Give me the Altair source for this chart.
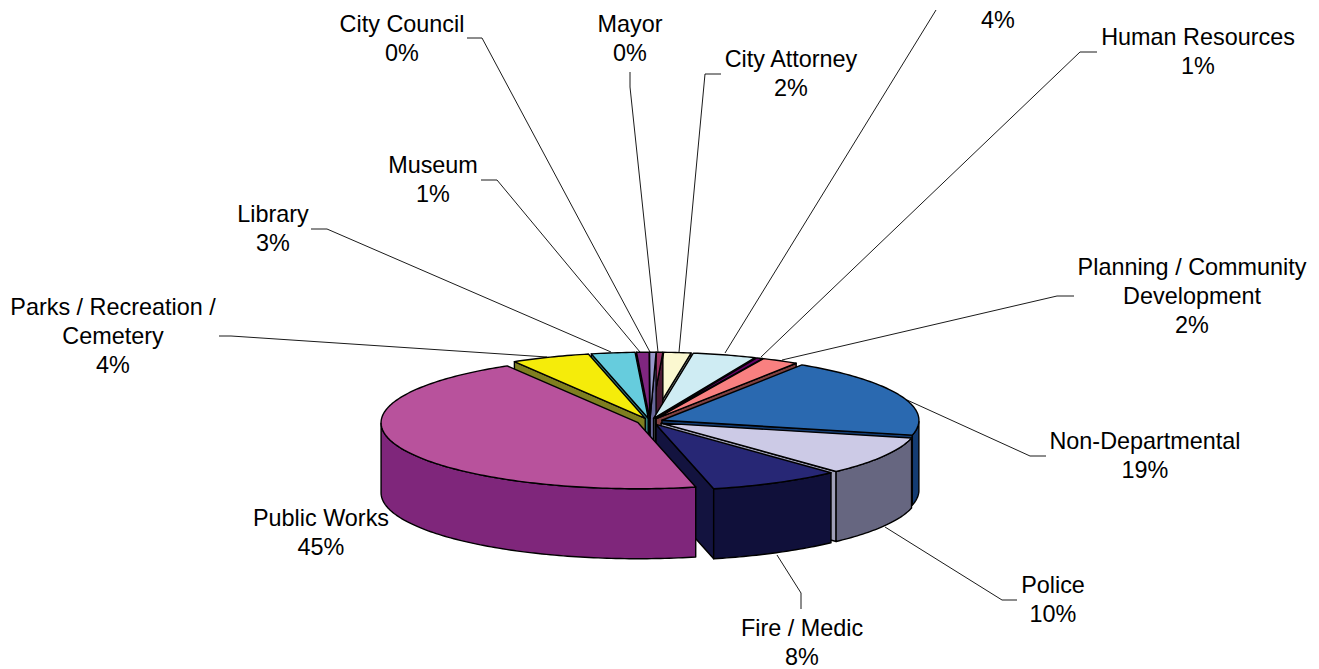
import math
import altair as alt
import pandas as pd

names = ["Non-Departmental", "Police", "Fire / Medic", "Public Works", "Parks / Recreation / Cemetery",
         "Library", "Museum", "City Council", "Mayor", "City Attorney", "(label cut off)", "Human Resources",
         "Planning / Community Development"]
shares = [19.4, 9.45, 8.3, 45.0, 4.94, 2.73, 0.78, 0.4, 0.4, 1.7, 3.98, 0.4, 2.3]
top_colors = ["#2A69B0", "#CCCAE6", "#272775", "#B8529C", "#F5EC0A", "#66CCDD", "#7F2680", "#9999CC",
              "#993366", "#FBF8D0", "#CFECF3", "#660066", "#F98080"]
wall_colors = ["#143C72", "#666680", "#10103A", "#7F267B", "#7F7F20", "#337F80", "#40134A", "#666699",
               "#4D1A33", "#80807A", "#68797F", "#330033", "#804040"]
face_colors = ["#143C72", "#A0A0B8", "#13133F", "#7F267B", "#7F7F20", "#337F80", "#40134A", "#666699",
               "#4D1A33", "#80807A", "#68797F", "#330033", "#804040"]
draw_order = [9, 8, 7, 10, 11, 6, 5, 12, 4, 0, 1, 2, 3]

label_lines = [
    ["Non-Departmental", "19%"], ["Police", "10%"], ["Fire / Medic", "8%"], ["Public Works", "45%"],
    ["Parks / Recreation /", "Cemetery", "4%"], ["Library", "3%"], ["Museum", "1%"], ["City Council", "0%"],
    ["Mayor", "0%"], ["City Attorney", "2%"], ["4%"], ["Human Resources", "1%"],
    ["Planning / Community", "Development", "2%"],
]
label_x = [1145, 1053, 802, 321, 113, 273, 433, 402, 630, 791, 998, 1198, 1192]
label_y = [441.8, 585.8, 628.8, 518.8, 307.8, 214.8, 165.8, 24.8, 24.8, 59.8, 20.5, 37.8, 267.8]
leaders = [
    [(907, 400), (1030, 456), (1046, 456)], [(885, 527), (1002, 600), (1017, 600)],
    [(777, 555), (801, 593), (801, 609)], [],
    [(547, 357), (231, 336), (219, 336)], [(611, 352), (327, 229), (311, 229)],
    [(640, 352), (497, 180), (481, 180)], [(650, 352), (482, 38), (467, 38)],
    [(658, 352), (630, 87), (630, 72)], [(679, 352), (705, 74), (721, 74)],
    [(725, 353), (936, 10)], [(761, 357), (1080, 52), (1097, 52)],
    [(782, 360), (1057, 296), (1074, 296)],
]

# page geometry
W, H = 1303, 661
M = 8
CX, CY, RX, RY, DEPTH, EXPLODE = 650.0, 421.5, 257.0, 66.0, 70.0, 0.05
START = 57.0


def px(p, dy=0.0):
    return [round(p[0] - M, 2), round(p[1] - M + dy, 2)]


total = sum(shares)
features = []


def add(ring, color):
    ring = ring + [ring[0]]
    features.append({"type": "Feature", "properties": {"fill": color},
                     "geometry": {"type": "Polygon", "coordinates": [ring]}})


spans = []
a = START
for s in shares:
    b = a - s / total * 360.0
    spans.append((a, b))
    a = b

for i in draw_order:
    a0, b0 = spans[i]
    mid = math.radians((a0 + b0) / 2)
    cx = CX + EXPLODE * RX * math.cos(mid)
    cy = CY - EXPLODE * RY * math.sin(mid)
    rim = lambda deg: (cx + RX * math.cos(math.radians(deg)), cy - RY * math.sin(math.radians(deg)))
    n = max(2, int(abs(a0 - b0)) + 2)
    arc = [a0 + (b0 - a0) * k / (n - 1) for k in range(n)]
    apex = (cx, cy)
    # only the cut faces that turn towards the viewer
    if math.cos(math.radians(a0)) < 0:
        add([px(apex), px(rim(a0)), px(rim(a0), DEPTH), px(apex, DEPTH)], face_colors[i])
    if math.cos(math.radians(b0)) > 0:
        add([px(apex), px(rim(b0)), px(rim(b0), DEPTH), px(apex, DEPTH)], face_colors[i])
    front = [d for d in arc if math.sin(math.radians(d)) < 0]
    if len(front) > 1:
        add([px(rim(d)) for d in front] + [px(rim(d), DEPTH) for d in reversed(front)], wall_colors[i])
    add([px(apex)] + [px(rim(d)) for d in arc], top_colors[i])

text_rows = []
LINE = 29
for i, lines in enumerate(label_lines):
    for j, t in enumerate(lines):
        text_rows.append({"x": label_x[i], "y": label_y[i] + j * LINE, "t": t, "k": f"{i}-{j}"})

lead_rows = []
for i, pts in enumerate(leaders):
    for j, (x, y) in enumerate(pts):
        lead_rows.append({"x": x, "y": y, "g": names[i], "o": j})

xs = alt.Scale(domain=[M, M + W], range=[0, W])
ys = alt.Scale(domain=[M, M + H], range=[0, H])

lead = alt.Chart(pd.DataFrame(lead_rows)).mark_line(color="black", strokeWidth=0.9).encode(
    x=alt.X("x:Q", scale=xs, axis=None), y=alt.Y("y:Q", scale=ys, axis=None),
    detail="g:N", order="o:Q")

pie = alt.Chart(alt.Data(values=features)).mark_geoshape(
    stroke="black", strokeWidth=1.4, strokeJoin="round").encode(
    fill=alt.Color("properties.fill:N", scale=None)
).project(type="identity", scale=1, translate=[0, 0])

text = alt.Chart(pd.DataFrame(text_rows)).mark_text(
    font="Liberation Sans", fontSize=23.4, color="black", align="center", baseline="middle").encode(
    x=alt.X("x:Q", scale=xs, axis=None), y=alt.Y("y:Q", scale=ys, axis=None), text="t:N", detail="k:N")

chart = alt.layer(lead, pie, text).properties(
    width=W, height=H, padding=0, autosize=alt.AutoSizeParams(type="none"), background="white"
).configure_view(stroke=None)

chart.save("out.html", embed_options={"renderer": "svg", "actions": False})
